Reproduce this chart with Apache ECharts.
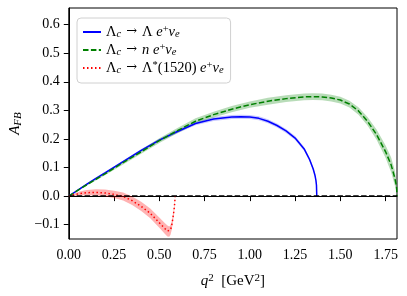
<!DOCTYPE html>
<html><head><meta charset="utf-8">
<script src="https://cdn.jsdelivr.net/npm/echarts@6/dist/echarts.min.js"></script>
<style>html,body{margin:0;padding:0;background:#fff}#c{width:407px;height:296px}</style>
</head><body><div id="c"></div>
<script>
// Λc → Λ e+ νe
const qLam   = [0, 0.05, 0.1, 0.15, 0.2, 0.3, 0.4, 0.5, 0.6, 0.7, 0.8, 0.9, 0.95, 1.0, 1.05, 1.1, 1.15, 1.2, 1.25, 1.3, 1.33, 1.35, 1.36, 1.365, 1.368, 1.3697];
const afbLam = [0, 0.021, 0.042, 0.062, 0.081, 0.121, 0.160, 0.196, 0.226, 0.254, 0.270, 0.277, 0.278, 0.277, 0.272, 0.262, 0.247, 0.228, 0.203, 0.165, 0.128, 0.095, 0.072, 0.055, 0.038, 0];
const errLam = [0, 0.002, 0.003, 0.003, 0.004, 0.004, 0.005, 0.005, 0.006, 0.006, 0.007, 0.007, 0.007, 0.007, 0.007, 0.007, 0.007, 0.007, 0.007, 0.007, 0.007, 0.006, 0.005, 0.004, 0.003, 0];
// Λc → n e+ νe
const qN   = [0, 0.05, 0.1, 0.15, 0.2, 0.3, 0.4, 0.5, 0.6, 0.7, 0.8, 0.9, 1.0, 1.1, 1.2, 1.3, 1.35, 1.4, 1.45, 1.5, 1.55, 1.6, 1.65, 1.7, 1.75, 1.78, 1.8, 1.81, 1.8128];
const afbN = [0, 0.020, 0.040, 0.059, 0.078, 0.117, 0.155, 0.194, 0.229, 0.262, 0.285, 0.304, 0.320, 0.332, 0.341, 0.347, 0.348, 0.347, 0.343, 0.336, 0.322, 0.298, 0.262, 0.215, 0.155, 0.110, 0.065, 0.035, 0];
const errN = [0, 0.002, 0.003, 0.004, 0.005, 0.006, 0.007, 0.008, 0.009, 0.010, 0.010, 0.011, 0.011, 0.012, 0.012, 0.012, 0.012, 0.012, 0.012, 0.012, 0.012, 0.013, 0.015, 0.018, 0.022, 0.026, 0.026, 0.018, 0];
// Λc → Λ*(1520) e+ νe
const qStar   = [0, 0.03, 0.06, 0.1, 0.15, 0.2, 0.25, 0.3, 0.35, 0.4, 0.45, 0.5, 0.53, 0.545, 0.555, 0.562, 0.568, 0.575, 0.581, 0.585, 0.5876];
const afbStar = [0, 0.005, 0.009, 0.012, 0.013, 0.011, 0.006, -0.001, -0.016, -0.036, -0.060, -0.093, -0.113, -0.122, -0.124, -0.118, -0.104, -0.078, -0.050, -0.025, 0];
const errStar = [0, 0.004, 0.007, 0.009, 0.011, 0.012, 0.013, 0.014, 0.015, 0.016, 0.017, 0.018, 0.019, 0.019, 0.018, 0.017, 0.015, 0.013, 0.010, 0.006, 0];

const xTicks = [0, 0.25, 0.5, 0.75, 1.0, 1.25, 1.5, 1.75];
const xTickLabels = ['0.00', '0.25', '0.50', '0.75', '1.00', '1.25', '1.50', '1.75'];
const yTicks = [-0.1, 0, 0.1, 0.2, 0.3, 0.4, 0.5, 0.6];
const yTickLabels = ['\u22120.1', '0.0', '0.1', '0.2', '0.3', '0.4', '0.5', '0.6'];
const xRange = [0, 1.8128];
const yRange = [-0.15, 0.658];

const FONT = 'Liberation Serif';
function lookup(ticks, labels, v) {
  for (let i = 0; i < ticks.length; i++) if (Math.abs(ticks[i] - v) < 1e-9) return labels[i];
  return '';
}
function richSet(fs, ss) {
  return {
    r:  {fontFamily: FONT, fontSize: fs, color: '#000'},
    i:  {fontFamily: FONT, fontSize: fs, fontStyle: 'italic', color: '#000'},
    ar: {fontFamily: 'DejaVu Serif', fontSize: fs - 1.5, color: '#000'},
    g:  {fontFamily: FONT, fontSize: fs, width: 5},
    sb: {fontFamily: FONT, fontSize: ss, fontStyle: 'italic', color: '#000', verticalAlign: 'bottom', padding: [5, 0, 0, 0]},
    sp: {fontFamily: FONT, fontSize: ss, color: '#000', verticalAlign: 'top', padding: [0, 0, 5, 0]}
  };
}
const legendRich = richSet(14.5, 10.5);
const nameRich = richSet(15, 11);
const legendLabels = {
  lam:  '{r|\u039B}{sb|c}{g|\u00A0}{ar|\u2192}{g|\u00A0}{r|\u039B }{i|e}{sp|+}{i|\u03BD}{sb|e}',
  n:    '{r|\u039B}{sb|c}{g|\u00A0}{ar|\u2192}{g|\u00A0}{i|n}{r| }{i|e}{sp|+}{i|\u03BD}{sb|e}',
  star: '{r|\u039B}{sb|c}{g|\u00A0}{ar|\u2192}{g|\u00A0}{r|\u039B}{sp|*}{r|(1520) }{i|e}{sp|+}{i|\u03BD}{sb|e}'
};

function band(q, c, e, color) {
  const upper = q.map((x, i) => [x, c[i] + e[i]]);
  const lower = q.map((x, i) => [x, c[i] - e[i]]);
  return {
    type: 'custom', silent: true, z: 1,
    data: [[q[0], c[0]]],
    renderItem: function (params, api) {
      const pts = upper.map(p => api.coord(p)).concat(lower.slice().reverse().map(p => api.coord(p)));
      return {type: 'polygon', shape: {points: pts}, style: {fill: color}};
    }
  };
}
function line(name, q, c, color, type, z) {
  return {
    name: name, type: 'line', z: z, symbol: 'none', showSymbol: false, silent: true,
    data: q.map((x, i) => [x, c[i]]),
    lineStyle: {color: color, width: 1.5, type: type, cap: 'butt'},
    itemStyle: {color: color}
  };
}

const chart = echarts.init(document.getElementById('c'));
chart.setOption({
  animation: false,
  grid: {left: 67, right: 10, top: 8, bottom: 57, show: true, borderColor: '#000', borderWidth: 1},
  xAxis: {
    type: 'value', min: xRange[0], max: xRange[1],
    name: '{i|q}{sp|2}{r|  [GeV}{sp|2}{r|]}', nameLocation: 'middle', nameGap: 34,
    nameTextStyle: {rich: nameRich},
    axisLine: {show: true, lineStyle: {color: '#000', width: 1}},
    axisTick: {show: true, length: 5, customValues: xTicks, lineStyle: {color: '#000', width: 1}},
    axisLabel: {customValues: xTicks, formatter: v => lookup(xTicks, xTickLabels, v), margin: 9,
      fontFamily: FONT, fontSize: 14, color: '#000'},
    splitLine: {show: false}
  },
  yAxis: {
    type: 'value', min: yRange[0], max: yRange[1],
    name: '{i|A}{sb|FB}', nameLocation: 'middle', nameGap: 43, nameRotate: 90,
    nameTextStyle: {rich: nameRich},
    axisLine: {show: true, lineStyle: {color: '#000', width: 1}},
    axisTick: {show: true, length: 5, customValues: yTicks, lineStyle: {color: '#000', width: 1}},
    axisLabel: {customValues: yTicks, formatter: v => lookup(yTicks, yTickLabels, v), margin: 9,
      fontFamily: FONT, fontSize: 14, color: '#000'},
    splitLine: {show: false}
  },
  legend: {
    orient: 'vertical', left: 77, top: 18, itemWidth: 18, itemHeight: 12, itemGap: 2,
    padding: [6, 7, 7, 5],
    itemStyle: {opacity: 0},
    backgroundColor: 'rgba(255,255,255,0.8)', borderColor: '#d0d0d0', borderWidth: 1, borderRadius: 4,
    data: ['lam', 'n', 'star'],
    formatter: name => legendLabels[name],
    textStyle: {fontFamily: FONT, fontSize: 14.5, color: '#000', rich: legendRich}
  },
  series: [
    band(qLam, afbLam, errLam, 'rgba(0,0,255,0.22)'),
    band(qN, afbN, errN, 'rgba(0,128,0,0.28)'),
    band(qStar, afbStar, errStar, 'rgba(255,0,0,0.3)'),
    line('lam', qLam, afbLam, '#0000ff', 'solid', 3),
    line('n', qN, afbN, '#008000', [5.5, 2.4], 3),
    line('star', qStar, afbStar, '#ff0000', [1.5, 2.5], 3),
    {type: 'line', z: 4, symbol: 'none', silent: true, data: [[xRange[0], 0], [xRange[1], 0]],
     lineStyle: {color: '#000', width: 1.5, type: [5.5, 2.4]}}
  ]
});
</script></body></html>
